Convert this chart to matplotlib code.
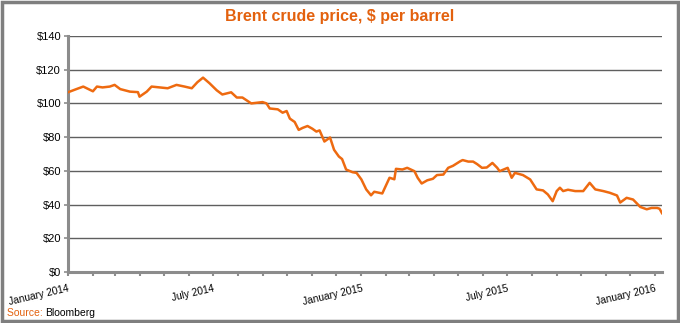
import matplotlib
matplotlib.use("Agg")
from matplotlib import pyplot as plt
import matplotlib.dates as mdates
from matplotlib.patches import Rectangle
import numpy as np

plt.rcParams['font.family'] = ['Liberation Sans', 'DejaVu Sans']

# Brent price, $ per barrel
dates = ["2014-01-02", "2014-01-12", "2014-01-20", "2014-02-01", "2014-02-06", "2014-02-13",
         "2014-02-22", "2014-02-28", "2014-03-07", "2014-03-19", "2014-03-29", "2014-03-31",
         "2014-04-09", "2014-04-15", "2014-04-25", "2014-05-05", "2014-05-16", "2014-05-26",
         "2014-06-04", "2014-06-11", "2014-06-18", "2014-06-26", "2014-07-05", "2014-07-12",
         "2014-07-23", "2014-07-30", "2014-08-06", "2014-08-17", "2014-08-31", "2014-09-05",
         "2014-09-09", "2014-09-19", "2014-09-25", "2014-09-30", "2014-10-04", "2014-10-10",
         "2014-10-15", "2014-10-20", "2014-10-26", "2014-11-01", "2014-11-06", "2014-11-10",
         "2014-11-16", "2014-11-23", "2014-11-28", "2014-12-04", "2014-12-08", "2014-12-13",
         "2014-12-21", "2014-12-26", "2015-01-01", "2015-01-07", "2015-01-13", "2015-01-17",
         "2015-01-27", "2015-02-05", "2015-02-11", "2015-02-13", "2015-02-21", "2015-02-27",
         "2015-03-08", "2015-03-12", "2015-03-17", "2015-03-24", "2015-03-31", "2015-04-05",
         "2015-04-13", "2015-04-19", "2015-04-25", "2015-05-04", "2015-05-07", "2015-05-14",
         "2015-05-20", "2015-05-25", "2015-05-31", "2015-06-06", "2015-06-13", "2015-06-19",
         "2015-06-22", "2015-07-02", "2015-07-07", "2015-07-11", "2015-07-21", "2015-07-30",
         "2015-08-07", "2015-08-15", "2015-08-21", "2015-08-27", "2015-09-01", "2015-09-05",
         "2015-09-09", "2015-09-15", "2015-09-24", "2015-10-04", "2015-10-12", "2015-10-19",
         "2015-10-29", "2015-11-06", "2015-11-15", "2015-11-19", "2015-11-27", "2015-12-05",
         "2015-12-14", "2015-12-22", "2015-12-28", "2016-01-04", "2016-01-07", "2016-01-10"]
prices = [106.8, 108.6, 110.0, 107.2, 110.0, 109.5,
          110.0, 111.0, 108.5, 107.0, 106.7, 104.0,
          107.0, 110.0, 109.5, 109.0, 111.0, 110.0,
          109.0, 112.6, 115.3, 112.0, 107.8, 105.3,
          106.6, 103.5, 103.5, 100.0, 100.8, 100.0,
          97.0, 96.5, 94.5, 95.5, 91.0, 89.0,
          84.3, 85.5, 86.6, 85.0, 83.3, 84.0,
          77.4, 79.8, 72.5, 68.5, 67.0, 60.8,
          59.2, 58.8, 54.9, 49.0, 45.5, 47.6,
          46.6, 55.9, 55.0, 61.2, 60.8, 61.8,
          59.8, 55.9, 52.5, 54.4, 55.3, 57.5,
          57.8, 61.8, 63.0, 65.7, 66.4, 65.5,
          65.5, 64.0, 61.8, 62.0, 64.7, 61.8,
          59.8, 61.8, 55.9, 58.8, 57.5, 54.9,
          49.0, 48.4, 46.0, 42.0, 48.0, 50.0,
          48.0, 48.8, 48.0, 48.0, 52.9, 49.0,
          48.0, 47.0, 45.4, 41.2, 44.0, 43.0,
          38.6, 37.2, 38.0, 38.0, 37.5, 34.9]
major_ticks = ["2014-01-01", "2014-07-01", "2015-01-01", "2015-07-01", "2016-01-01"]
major_labels = ["January 2014", "July 2014", "January 2015", "July 2015", "January 2016"]

orange = '#EE6A10'
title_orange = '#E3610E'
grey = '#8C8C8C'

d = np.array(dates, dtype='datetime64[D]')

fig = plt.figure(figsize=(6.8, 3.23), dpi=100)
ax = fig.add_axes([68/680, 1-272/323, 594/680, 236/323])

for v in range(20, 141, 20):
    ax.axhline(v, color='#5F5F5F', lw=1.0, zorder=1)
ax.plot(d, prices, color=orange, lw=1.8, zorder=3)

ax.set_ylim(0, 140)
ax.set_yticks(range(0, 141, 20))
ax.set_yticklabels(['$%d' % v for v in range(0, 141, 20)], fontsize=8)
ax.set_xlim(np.datetime64('2014-01-01'), np.datetime64('2016-01-10'))

ax.set_xticks(np.array(major_ticks, dtype='datetime64[D]'))
ax.set_xticklabels(major_labels, fontsize=7.3, rotation=13, ha='right',
                   rotation_mode='anchor')
ax.xaxis.set_minor_locator(mdates.MonthLocator())
ax.tick_params(axis='x', which='both', length=3, width=1.5, color=grey, pad=5)
ax.tick_params(axis='y', length=3, width=1.2, color=grey, pad=2)

for s in ['top', 'right']:
    ax.spines[s].set_visible(False)
for s in ['left', 'bottom']:
    ax.spines[s].set_color(grey)
    ax.spines[s].set_linewidth(2.2)

fig.text(0.5, 1-17/323, 'Brent crude price, $ per barrel', ha='center', va='center',
         fontsize=11.5, fontweight='bold', color=title_orange)
t = fig.text(7/680, 1-313/323, 'Source: ', ha='left', va='center', fontsize=7.5,
             color=title_orange)
fig.canvas.draw()
bb = t.get_window_extent()
fig.text(bb.x1/680, 1-313/323, 'Bloomberg', ha='left', va='center', fontsize=7.5,
         color='black')

fig.patches.append(Rectangle((2/680, 2/323), 676/680, 319/323, transform=fig.transFigure,
                             fill=False, edgecolor='#7F7F7F', lw=2.5))

fig.savefig('out.png', dpi=100)
